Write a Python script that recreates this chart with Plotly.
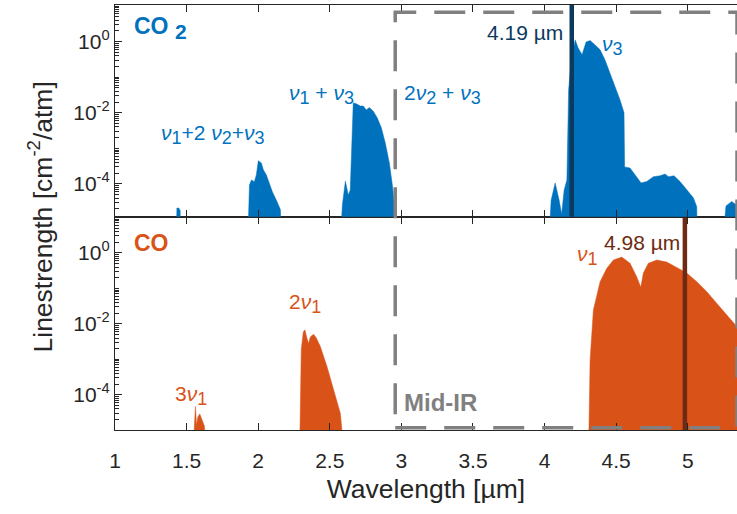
import plotly.graph_objects as go

# ---------------- data ----------------
BASE = 1e-6  # floor used to close the filled band polygons (below axis range)

# CO2 bands: wavelength [um], envelope linestrength [cm^-2/atm]
co2_a_x = [1.428, 1.432, 1.445, 1.455, 1.458]
co2_a_y = [BASE, 2.1e-5, 2.1e-5, 1.8e-5, BASE]

co2_b_x = [1.925, 1.932, 1.939, 1.953, 1.973, 1.987, 2.001, 2.022, 2.036, 2.057, 2.078, 2.099, 2.127, 2.155, 2.169]
co2_b_y = [BASE, 3.5e-5, 9.3e-5, 1.3e-4, 1.15e-4, 1.8e-4, 4.5e-4, 3.9e-4, 2.5e-4, 1.8e-4, 1.07e-4, 6.0e-5, 3.5e-5, 1.9e-5, BASE]

co2_c_x = [2.569, 2.588, 2.609, 2.629, 2.643, 2.654, 2.664, 2.685, 2.713, 2.734, 2.755, 2.776, 2.804, 2.832, 2.860, 2.888, 2.916, 2.937, 2.951, 2.957]
co2_c_y = [BASE, 2.6e-5, 1.2e-4, 4.9e-5, 6.8e-5, 9.1e-4, 1.9e-2, 1.8e-2, 1.55e-2, 1.55e-2, 1.2e-2, 1.4e-2, 1.1e-2, 7.2e-3, 3.8e-3, 1.4e-3, 3.9e-4, 9.3e-5, 2.6e-5, BASE]

co2_d_x = [4.025, 4.046, 4.074, 4.102, 4.119, 4.137, 4.156, 4.168, 4.186, 4.214, 4.235, 4.262, 4.290, 4.318, 4.353,
           4.388, 4.423, 4.458, 4.493, 4.527, 4.555, 4.559, 4.597, 4.644, 4.674, 4.714, 4.760, 4.807, 4.842, 4.865,
           4.904, 4.946, 4.993, 5.039, 5.063, 5.067]
co2_d_y = [BASE, 3.5e-5, 1.07e-4, 3.5e-5, 1.4e-5, 6.8e-5, 1.3e-4, 4.4e-2, 0.30, 1.12, 0.66, 0.43, 0.98, 1.07, 0.81,
           0.59, 0.30, 0.13, 0.054, 0.023, 0.010, 3.0e-4, 2.8e-4, 1.6e-4, 1.07e-4, 1.17e-4, 1.6e-4, 1.7e-4, 1.9e-4, 1.6e-4,
           1.7e-4, 1.17e-4, 6.8e-5, 4.1e-5, 2.3e-5, BASE]

co2_e_x = [5.237, 5.267, 5.307, 5.344, 5.40, 5.40]
co2_e_y = [BASE, 2.4e-5, 3.2e-5, 2.5e-5, 1.5e-5, BASE]

# CO bands
co_a_x = [1.539, 1.555, 1.562, 1.569, 1.579, 1.592, 1.611, 1.625, 1.639]
co_a_y = [BASE, 1.95e-5, 4.7e-5, 1.4e-5, 2.4e-5, 2.9e-5, 1.95e-5, 1.3e-5, BASE]

co_b_x = [2.288, 2.294, 2.301, 2.315, 2.326, 2.340, 2.352, 2.364, 2.387, 2.406, 2.434, 2.481, 2.527, 2.574, 2.608]
co_b_y = [BASE, 2.5e-4, 1.9e-3, 5.9e-3, 6.8e-3, 4.0e-3, 2.8e-3, 4.3e-3, 5.1e-3, 4.0e-3, 2.3e-3, 6.2e-4, 1.4e-4, 3.0e-5, BASE]

co_c_x = [4.306, 4.318, 4.341, 4.388, 4.435, 4.481, 4.539, 4.597, 4.644, 4.672, 4.690, 4.725, 4.784, 4.853,
          4.923, 4.993, 5.063, 5.133, 5.202, 5.272, 5.344, 5.40, 5.40]
co_c_y = [BASE, 9.5e-4, 0.0245, 0.155, 0.37, 0.63, 0.76, 0.51, 0.21, 0.107, 0.27, 0.51, 0.63, 0.55,
          0.39, 0.27, 0.155, 0.081, 0.038, 0.0178, 0.0083, 0.005, BASE]

marker_co2 = 4.19  # um
marker_co = 4.98   # um
midir_start = 2.957
x_range = [1.0, 5.344]

x_tickvals = [1, 1.5, 2, 2.5, 3, 3.5, 4, 4.5, 5]
x_ticktext = ["1", "1.5", "2", "2.5", "3", "3.5", "4", "4.5", "5"]
y_tickvals = [1e-4, 1e-2, 1]
y_ticktext = ["10<sup>-4</sup>", "10<sup>-2</sup>", "10<sup>0</sup>"]
y_minor = [m * 10.0 ** e for e in range(-5, 1) for m in range(1, 10)
           if not (m == 1 and e in (-4, -2, 0))] + [10]

BLUE = "#0072BD"
ORANGE = "#D95319"
NAVY = "#0c3a5e"
BROWN = "#6e2a12"
GRAY = "#808080"
AX = "#262626"
FONT = "Liberation Sans, Arial, sans-serif"

fig = go.Figure()

def band(x, y, color, xa, ya):
    fig.add_trace(go.Scatter(x=x, y=y, fill="toself", fillcolor=color, mode="lines",
                             line=dict(width=0.5, color=color), xaxis=xa, yaxis=ya,
                             hoverinfo="skip", showlegend=False))

for bx, by in [(co2_a_x, co2_a_y), (co2_b_x, co2_b_y), (co2_c_x, co2_c_y), (co2_d_x, co2_d_y), (co2_e_x, co2_e_y)]:
    band(bx, by, BLUE, "x2", "y2")
for bx, by in [(co_a_x, co_a_y), (co_b_x, co_b_y), (co_c_x, co_c_y)]:
    band(bx, by, ORANGE, "x", "y")

fig.add_trace(go.Scatter(x=[marker_co2, marker_co2], y=[BASE, 100], mode="lines",
                         line=dict(color=NAVY, width=4.5), xaxis="x2", yaxis="y2", showlegend=False))
fig.add_trace(go.Scatter(x=[marker_co, marker_co], y=[BASE, 100], mode="lines",
                         line=dict(color=BROWN, width=4.5), xaxis="x", yaxis="y", showlegend=False))

split = 0.5019

xcommon = dict(range=x_range, tickvals=x_tickvals, ticktext=x_ticktext, ticks="inside", ticklen=7,
               tickwidth=1.3, tickcolor=AX, showline=True, linecolor=AX, linewidth=1.3, mirror="ticks",
               showgrid=False, zeroline=False, tickfont=dict(family=FONT, size=21, color=AX))
ycommon = dict(type="log", tickvals=y_tickvals, ticktext=y_ticktext, ticks="inside", ticklen=7,
               tickwidth=1.3, tickcolor=AX, showline=True, linecolor=AX, linewidth=1.3, mirror=False,
               showgrid=False, zeroline=False, tickfont=dict(family=FONT, size=21, color=AX),
               minor=dict(tickvals=y_minor, ticks="inside", ticklen=4, tickcolor=AX, tickwidth=1, showgrid=False))

fig.update_layout(
    width=737, height=514, margin=dict(l=115, r=0, t=5, b=84),
    paper_bgcolor="white", plot_bgcolor="white", showlegend=False,
    xaxis=dict(**xcommon, anchor="y", ticklabelstandoff=12,
               title=dict(text="Wavelength [µm]", font=dict(family=FONT, size=26.5, color=AX), standoff=8)),
    xaxis2=dict(**xcommon, anchor="y2", matches="x", showticklabels=False),
    yaxis=dict(**ycommon, domain=[0, split], range=[-4.99, 1.02], anchor="x"),
    yaxis2=dict(**ycommon, domain=[split, 1], range=[-4.92, 1.03], anchor="x2"),
)

fig.add_shape(type="rect", xref="x", yref="paper", x0=midir_start, x1=x_range[1], y0=0.0054, y1=0.983,
              line=dict(color=GRAY, width=3.5, dash="31px,18px"), layer="above")

def note(text, x, y, yref, color, size=21, xanchor="left", bold=False):
    t = f"<b>{text}</b>" if bold else text
    fig.add_annotation(text=t, x=x, y=y, xref="x", yref=yref, xanchor=xanchor, yanchor="middle",
                       showarrow=False, font=dict(family=FONT, size=size, color=color))

def sub(s, px=18):
    return f"<sub><span style='font-size:{px}px'>{s}</span></sub>"

NU = "<i>ν</i>"
note(f"CO {sub('2', 21)}", 1.116, 0.89, "y2 domain", BLUE, size=23, bold=True)
note("CO", 1.116, 0.877, "y domain", ORANGE, size=23, bold=True)
note(f"{NU}{sub(1)}+2 {NU}{sub(2)}+{NU}{sub(3)}", 1.304, 0.39, "y2 domain", BLUE)
note(f"{NU}{sub(1)} + {NU}{sub(3)}", 2.204, 0.575, "y2 domain", BLUE)
note(f"2{NU}{sub(2)} + {NU}{sub(3)}", 3.006, 0.575, "y2 domain", BLUE)
note(f"{NU}{sub(3)}", 4.388, 0.811, "y2 domain", BLUE)
note("4.19 µm", 4.144, 0.870, "y2 domain", NAVY, xanchor="right")
note("4.98 µm", 4.402, 0.877, "y domain", BROWN)
note(f"{NU}{sub(1)}", 4.213, 0.816, "y domain", ORANGE)
note(f"2{NU}{sub(1)}", 2.204, 0.591, "y domain", ORANGE)
note(f"3{NU}{sub(1)}", 1.408, 0.164, "y domain", ORANGE)
note("Mid-IR", 3.006, 0.131, "y domain", GRAY, size=24, bold=True)

fig.add_annotation(text="Linestrength [cm<sup>-2</sup>/atm]", x=-(115 - 40) / 622, y=0.5,
                   xref="paper", yref="paper", xanchor="center", showarrow=False, textangle=-90,
                   font=dict(family=FONT, size=26.5, color=AX))

fig.write_html("out.html")
